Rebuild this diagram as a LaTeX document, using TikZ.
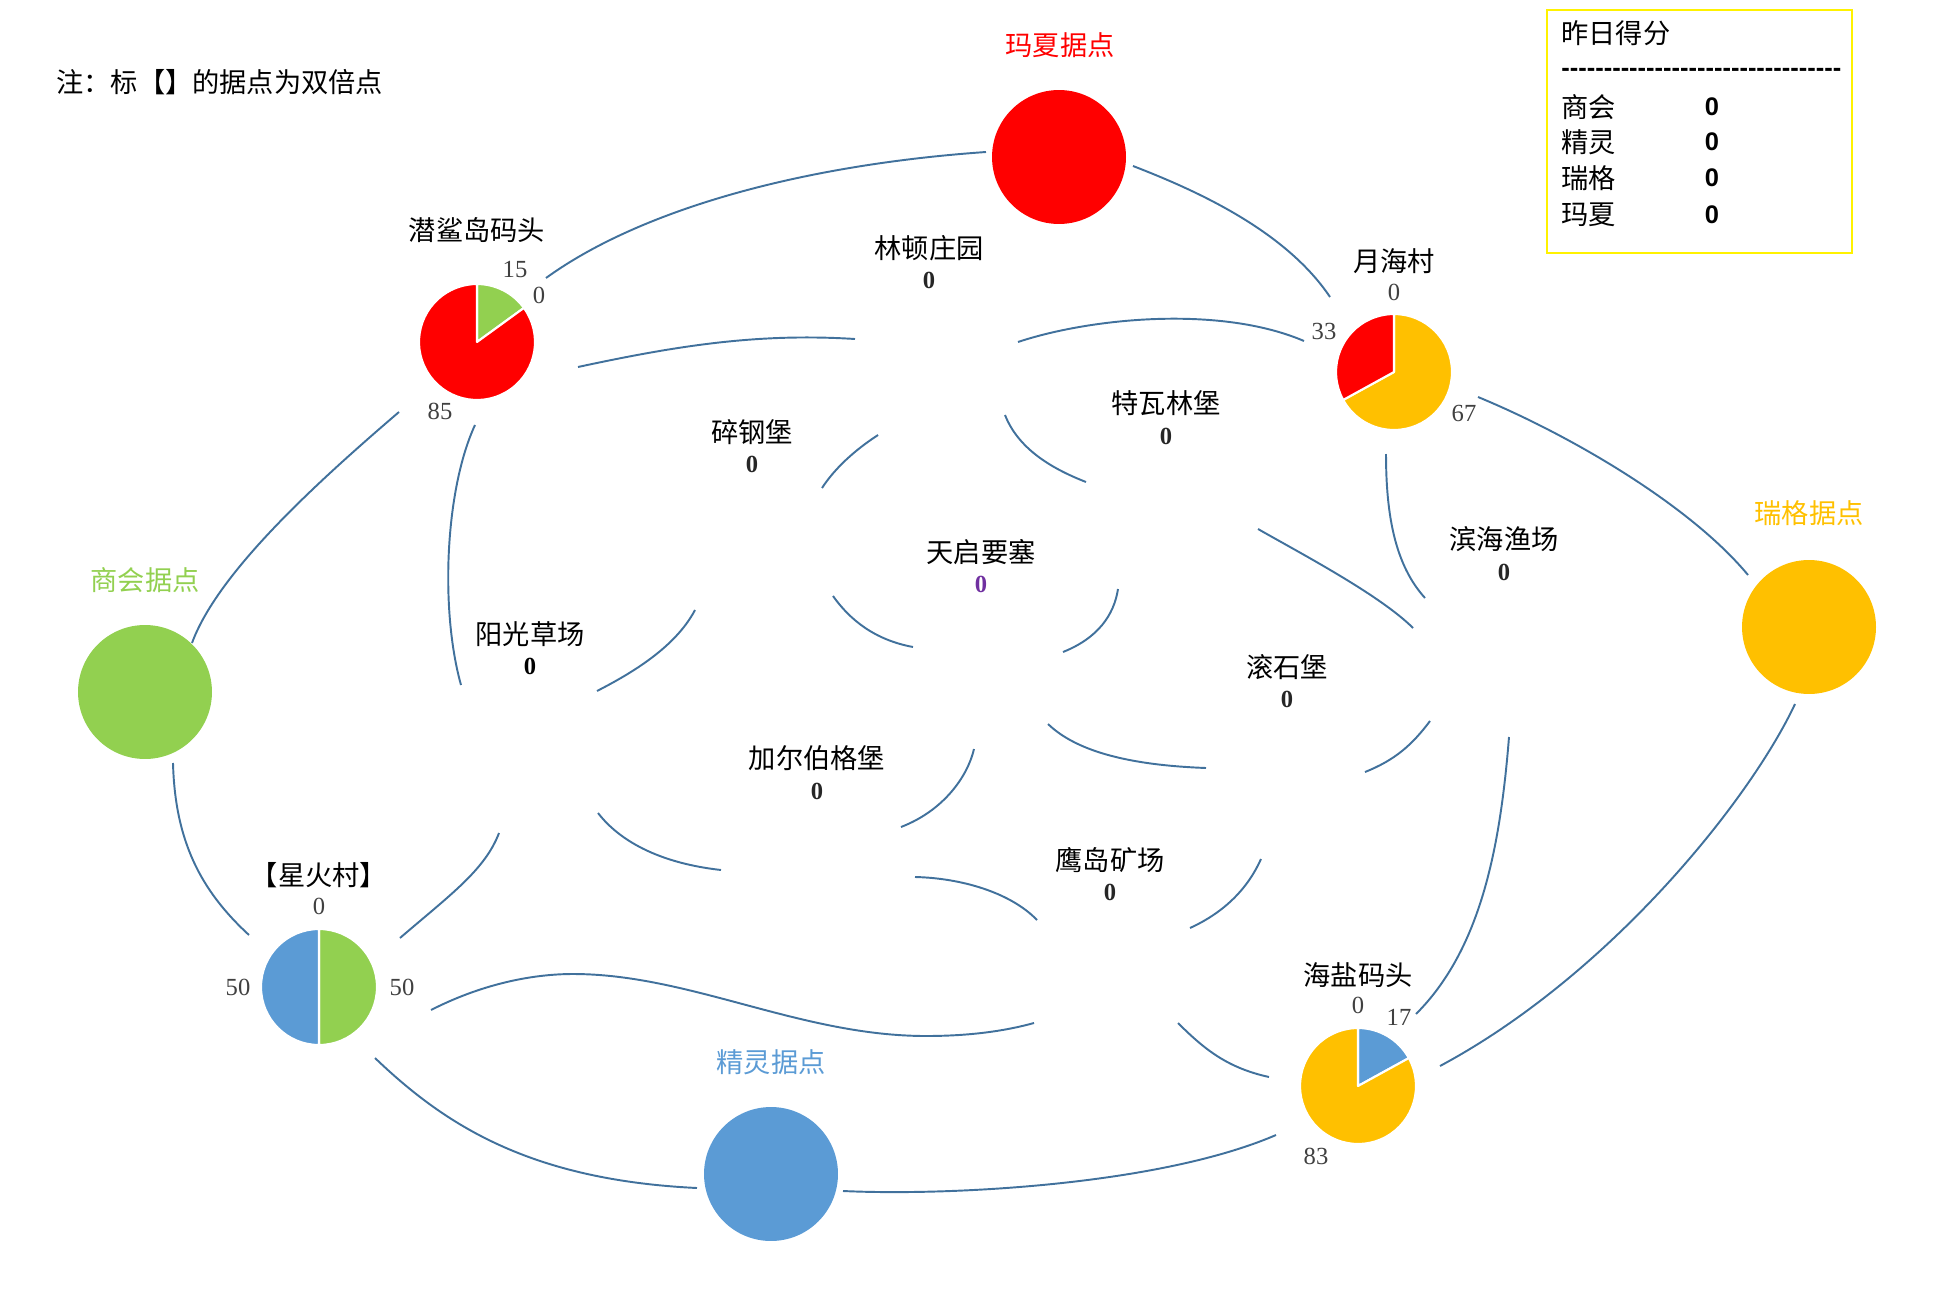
\documentclass[tikz,border=0pt]{standalone}
\usepackage{fontspec}
\setmainfont{Liberation Serif}
\newfontfamily\cjk{Noto Sans CJK SC}
\newfontfamily\scoresans{Liberation Sans}
\usepackage{tikz}
\definecolor{roadblue}{RGB}{65,113,156}
\definecolor{maxia}{RGB}{255,0,0}
\definecolor{shanghui}{RGB}{146,208,80}
\definecolor{ruige}{RGB}{255,192,0}
\definecolor{jingling}{RGB}{91,155,213}
\definecolor{tianqi}{RGB}{112,48,160}
\tikzset{
  camp/.style={circle,minimum size=2.68cm,inner sep=0pt},
  piebase/.style={circle,minimum size=2.32cm,inner sep=0pt},
  placename/.style={font=\cjk\fontsize{15.5}{18}\selectfont,inner sep=0pt},
  placescore/.style={font=\fontsize{14}{16}\selectfont\bfseries,text=black!85,inner sep=0pt},
  piescore/.style={font=\fontsize{14}{16}\selectfont,text=black!75,inner sep=0pt},
  scoretext/.style={font=\cjk\fontsize{15.5}{18}\selectfont,inner sep=0pt,anchor=west},
  scorevalue/.style={font=\scoresans\bfseries\fontsize{14.5}{16}\selectfont,inner sep=0pt},
  road/.style={draw=roadblue,line width=1.1pt},
  slice/.style={draw=white,line width=1.2pt,line join=round}
}
% one sector of a pie, angles clockwise from the top
\newcommand{\pieslice}[4]{%
  \filldraw[slice,fill=#4] (#1.center) -- ++(#2:1.16cm)
    arc[start angle=#2,end angle=#3,radius=1.16cm] -- cycle;}

\begin{document}
\begin{tikzpicture}[x=0.02cm,y=-0.02cm]
  \useasboundingbox (0,0) rectangle (1940,1294);

  % note and score board
  \node[placename,anchor=west] (note) at (56,82) {注：标【】的据点为双倍点};
  \node[draw=yellow,line width=1.1pt,minimum width=6.1cm,minimum height=4.86cm,inner sep=0pt]
    (scorebox) at (1699.5,131.5) {};
  \node[scoretext] (title) at (1561,33) {昨日得分};
  \node[scorevalue,anchor=west] (dashes) at (1561,72)
    {\foreach \i in {1,...,33}{-}};
  \node[scoretext] (r1) at (1561,107) {商会};
  \node[scoretext] (r2) at (1561,142) {精灵};
  \node[scoretext] (r3) at (1561,178) {瑞格};
  \node[scoretext] (r4) at (1561,215) {玛夏};
  \node[scorevalue] (v1) at (1712,107) {0};
  \node[scorevalue] (v2) at (1712,142) {0};
  \node[scorevalue] (v3) at (1712,178) {0};
  \node[scorevalue] (v4) at (1712,215) {0};

  % camps
  \node[camp,fill=maxia] (maxia) at (1059,157) {};
  \node[camp,fill=shanghui] (shanghui) at (145,692) {};
  \node[camp,fill=ruige] (ruige) at (1809,627) {};
  \node[camp,fill=jingling] (jingling) at (771,1174) {};
  \node[placename,text=maxia] (maxia-l) at (1060,45) {玛夏据点};
  \node[placename,text=shanghui] (shanghui-l) at (145,580) {商会据点};
  \node[placename,text=ruige] (ruige-l) at (1809,513) {瑞格据点};
  \node[placename,text=jingling] (jingling-l) at (771,1062) {精灵据点};

  % pies
  \node[piebase] (qs) at (477,342) {};
  \pieslice{qs}{90}{36}{shanghui}
  \pieslice{qs}{36}{-270}{maxia}
  \node[piebase] (yh) at (1394,372) {};
  \pieslice{yh}{90}{-151.2}{ruige}
  \pieslice{yh}{-151.2}{-270}{maxia}
  \node[piebase] (xh) at (319,987) {};
  \pieslice{xh}{90}{-90}{shanghui}
  \pieslice{xh}{-90}{-270}{jingling}
  \node[piebase] (hy) at (1358,1086) {};
  \pieslice{hy}{90}{28.8}{jingling}
  \pieslice{hy}{28.8}{-270}{ruige}

  \node[placename] (qs-l) at (477,230) {潜鲨岛码头};
  \node[piescore] (qs-a) at (515,270) {15};
  \node[piescore] (qs-b) at (539,295) {0};
  \node[piescore] (qs-c) at (440,411) {85};
  \node[placename] (yh-l) at (1394,261) {月海村};
  \node[piescore] (yh-a) at (1394,292) {0};
  \node[piescore] (yh-b) at (1324,331) {33};
  \node[piescore] (yh-c) at (1464,413) {67};
  \node[placename] (xh-l) at (319,875) {【星火村】};
  \node[piescore] (xh-a) at (319,906) {0};
  \node[piescore] (xh-b) at (238,987) {50};
  \node[piescore] (xh-c) at (402,987) {50};
  \node[placename] (hy-l) at (1358,975) {海盐码头};
  \node[piescore] (hy-a) at (1358,1005) {0};
  \node[piescore] (hy-b) at (1399,1017) {17};
  \node[piescore] (hy-c) at (1316,1156) {83};

  % neutral places
  \node[placename] (ld) at (929,248) {林顿庄园};
  \node[placescore] (ld-v) at (929,280) {0};
  \node[placename] (tw) at (1166,403) {特瓦林堡};
  \node[placescore] (tw-v) at (1166,436) {0};
  \node[placename] (sg) at (752,432) {碎钢堡};
  \node[placescore] (sg-v) at (752,464) {0};
  \node[placename] (bh) at (1504,539) {滨海渔场};
  \node[placescore] (bh-v) at (1504,572) {0};
  \node[placename] (tq) at (981,552) {天启要塞};
  \node[placescore,text=tianqi] (tq-v) at (981,584) {0};
  \node[placename] (yg) at (530,634) {阳光草场};
  \node[placescore,text=black] (yg-v) at (530,666) {0};
  \node[placename] (gs) at (1287,667) {滚石堡};
  \node[placescore] (gs-v) at (1287,699) {0};
  \node[placename] (ge) at (817,758) {加尔伯格堡};
  \node[placescore] (ge-v) at (817,791) {0};
  \node[placename] (yd) at (1110,860) {鹰岛矿场};
  \node[placescore] (yd-v) at (1110,892) {0};

  % road ends
  \coordinate (e1s) at (546,278);   \coordinate (e1t) at (986,152);
  \coordinate (e2s) at (1133,166);  \coordinate (e2t) at (1330,297);
  \coordinate (e3s) at (578,367);   \coordinate (e3t) at (855,339);
  \coordinate (e4s) at (1018,342);  \coordinate (e4t) at (1304,341);
  \coordinate (e5s) at (399,412);   \coordinate (e5t) at (192,643);
  \coordinate (e6s) at (475,425);   \coordinate (e6t) at (461,685);
  \coordinate (e7s) at (173,763);   \coordinate (e7t) at (249,935);
  \coordinate (e8s) at (400,938);   \coordinate (e8t) at (499,833);
  \coordinate (e9s) at (597,691);   \coordinate (e9t) at (695,610);
  \coordinate (e10s) at (822,488);  \coordinate (e10t) at (878,435);
  \coordinate (e11s) at (1005,415); \coordinate (e11t) at (1086,482);
  \coordinate (e12s) at (1258,529); \coordinate (e12t) at (1413,628);
  \coordinate (e13s) at (1386,454); \coordinate (e13t) at (1425,598);
  \coordinate (e14s) at (1478,397); \coordinate (e14t) at (1748,575);
  \coordinate (e15s) at (1795,704); \coordinate (e15t) at (1440,1066);
  \coordinate (e16s) at (1509,737); \coordinate (e16t) at (1416,1014);
  \coordinate (e17s) at (1430,721); \coordinate (e17t) at (1365,772);
  \coordinate (e18s) at (1048,724); \coordinate (e18t) at (1206,768);
  \coordinate (e19s) at (833,596);  \coordinate (e19t) at (913,647);
  \coordinate (e20s) at (1118,589); \coordinate (e20t) at (1063,652);
  \coordinate (e21s) at (974,749);  \coordinate (e21t) at (901,827);
  \coordinate (e22s) at (598,813);  \coordinate (e22t) at (721,870);
  \coordinate (e23s) at (915,877);  \coordinate (e23t) at (1037,920);
  \coordinate (e24s) at (1261,859); \coordinate (e24t) at (1190,928);
  \coordinate (e25s) at (1178,1023);\coordinate (e25t) at (1269,1077);
  \coordinate (e26s) at (431,1010); \coordinate (e26t) at (1034,1023);
  \coordinate (e27s) at (375,1058); \coordinate (e27t) at (697,1188);
  \coordinate (e28s) at (843,1191); \coordinate (e28t) at (1276,1135);

  % roads
  \draw[road] (e1s) .. controls (640,210) and (800,165) .. (e1t);
  \draw[road] (e2s) .. controls (1195,190) and (1285,230) .. (e2t);
  \draw[road] (e3s) .. controls (680,345) and (760,333) .. (e3t);
  \draw[road] (e4s) .. controls (1090,318) and (1220,305) .. (e4t);
  \draw[road] (e5s) .. controls (309,489) and (217,575) .. (e5t);
  \draw[road] (e6s) .. controls (445,490) and (440,610) .. (e6t);
  \draw[road] (e7s) .. controls (175,840) and (200,890) .. (e7t);
  \draw[road] (e8s) .. controls (450,895) and (485,870) .. (e8t);
  \draw[road] (e9s) .. controls (630,674) and (675,648) .. (e9t);
  \draw[road] (e10s) .. controls (835,468) and (855,450) .. (e10t);
  \draw[road] (e11s) .. controls (1018,448) and (1050,468) .. (e11t);
  \draw[road] (e12s) .. controls (1300,553) and (1380,595) .. (e12t);
  \draw[road] (e13s) .. controls (1386,515) and (1395,565) .. (e13t);
  \draw[road] (e14s) .. controls (1570,435) and (1690,505) .. (e14t);
  \draw[road] (e15s) .. controls (1750,800) and (1610,975) .. (e15t);
  \draw[road] (e16s) .. controls (1500,850) and (1480,950) .. (e16t);
  \draw[road] (e17s) .. controls (1412,745) and (1395,760) .. (e17t);
  \draw[road] (e18s) .. controls (1075,750) and (1125,765) .. (e18t);
  \draw[road] (e19s) .. controls (850,620) and (875,640) .. (e19t);
  \draw[road] (e20s) .. controls (1114,615) and (1098,638) .. (e20t);
  \draw[road] (e21s) .. controls (968,775) and (945,810) .. (e21t);
  \draw[road] (e22s) .. controls (615,835) and (650,862) .. (e22t);
  \draw[road] (e23s) .. controls (960,878) and (1010,892) .. (e23t);
  \draw[road] (e24s) .. controls (1248,888) and (1225,912) .. (e24t);
  \draw[road] (e25s) .. controls (1205,1050) and (1228,1068) .. (e25t);
  \draw[road] (e26s) .. controls (480,985) and (530,974) .. (573,974)
    .. controls (690,974) and (800,1036) .. (926,1036)
    .. controls (970,1036) and (1005,1031) .. (e26t);
  \draw[road] (e27s) .. controls (445,1125) and (530,1180) .. (e27t);
  \draw[road] (e28s) .. controls (950,1196) and (1160,1185) .. (e28t);
\end{tikzpicture}
\end{document}
